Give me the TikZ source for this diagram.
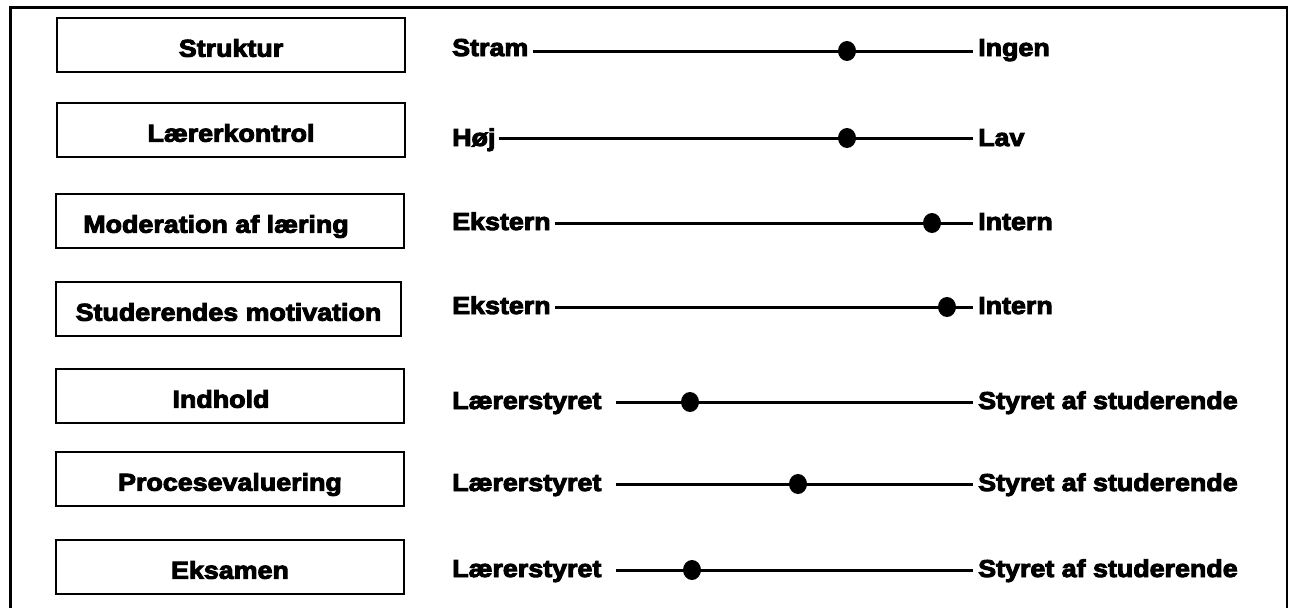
\documentclass[tikz,border=0pt]{standalone}
\usepackage{fontspec}
\setmainfont{Liberation Sans}[FakeStretch=1.1, BoldFeatures={FakeBold=4}]
\usetikzlibrary{shapes.geometric,calc}
\begin{document}
\begin{tikzpicture}[x=1pt,y=-1pt,
  lbl/.style={font=\fontsize{24.4}{28}\selectfont\bfseries, inner sep=0pt, anchor=base west},
  catbox/.style={draw, line width=1.5pt, minimum width=348pt, minimum height=54pt, inner sep=0pt,
     text height=24pt, text depth=0.5pt, font=\fontsize{24.4}{28}\selectfont\bfseries},
  conn/.style={line width=3pt},
  dot/.style={ellipse, fill=black, draw=none, minimum width=18pt, minimum height=20pt, inner sep=0pt}]
\useasboundingbox (0,0) rectangle (1294,608);
% frame
\draw[line width=3pt] (10,608) -- (10,7) -- (1287,7);
\draw[line width=2.5pt] (1287,5.5) -- (1287,608);
% category boxes
\node[catbox] (b1) at (231,45) {Struktur};
\node[catbox] (b2) at (231,130) {Lærerkontrol};
\node[catbox] (b3) at (230,221) {Moderation af læring\hspace*{28pt}};
\node[catbox, minimum width=345pt] (b4) at (228.5,309) {Studerendes motivation};
\node[catbox] (b5) at (230,396) {Indhold\hspace*{18pt}};
\node[catbox] (b6) at (230,479) {Procesevaluering};
\node[catbox] (b7) at (230,567) {Eksamen};
% scale rows
\foreach \i/\y/\lt/\rt/\dx/\gap/\by in {
  1/51/Stram/Ingen/847/5/5,
  2/138/Høj/Lav/847/3/8,
  3/223/Ekstern/Intern/932/4/7,
  4/307/Ekstern/Intern/947/4/7,
  5/402/Lærerstyret/Styret af studerende/690/14/7,
  6/484/Lærerstyret/Styret af studerende/798/14/7,
  7/570/Lærerstyret/Styret af studerende/692/14/7}{
  \node[lbl] (l\i) at (452,\y+\by) {\lt};
  \node[lbl] (r\i) at (978,\y+\by) {\rt};
  \node[dot] (d\i) at (\dx,\y) {};
  \draw[conn] ($(l\i.east |- d\i)+(\gap,0)$) -- ($(r\i.west |- d\i)+(-5,0)$);
}
\end{tikzpicture}
\end{document}
